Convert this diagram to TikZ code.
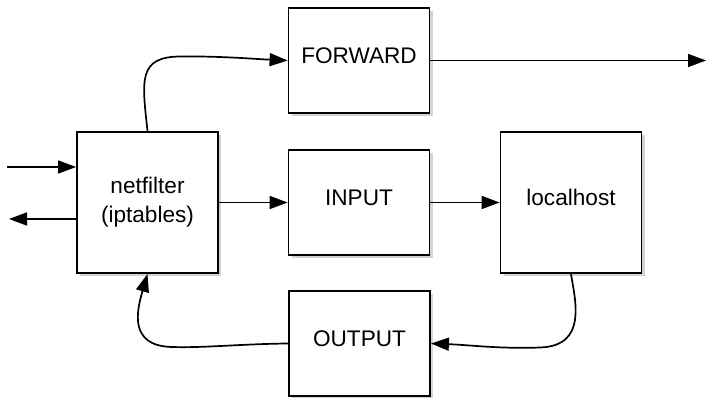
\documentclass[tikz,border=0pt]{standalone}
\usepackage{fontspec}
\setmainfont{Liberation Sans}
\usetikzlibrary{arrows.meta,shadows}
\begin{document}
\begin{tikzpicture}[x=1pt,y=-1pt,
  box/.style={draw=black, line width=1.8pt, fill=white, minimum width=141pt,
    inner sep=0pt, font=\fontsize{22.6}{29}\selectfont,
    drop shadow={shadow xshift=3pt, shadow yshift=-3pt, opacity=0.35, fill=black!50}},
  oneline/.style={text height=16pt, text depth=9.8pt},
  wire/.style={line width=1.7pt, -{Triangle[length=18pt,width=13pt]}}]
\useasboundingbox (0,0) rectangle (707,398);

% chain boxes
\node[box, minimum height=141pt, align=center] (nf) at (147.5,202.5) {netfilter\\(iptables)};
\node[box, oneline, minimum height=105pt] (fw) at (359,60.5) {FORWARD};
\node[box, oneline, minimum height=105pt] (inp) at (359,202.5) {INPUT};
\node[box, oneline, minimum height=141pt] (lh) at (571,202.5) {localhost};
\node[box, oneline, minimum height=105pt] (op) at (359.5,343.5) {OUTPUT};

% free ends of the outside traffic
\coordinate (inL) at (7,167);
\coordinate (outL) at (9,219);
\coordinate (fwOut) at (706,60.5);

% straight links
\draw[wire] (inL) -- (inL -| nf.west);
\draw[wire] (outL -| nf.west) -- (outL);
\draw[wire] (fw.east) -- (fwOut);
\draw[wire] (nf.east) -- (inp.west);
\draw[wire] (inp.east) -- (lh.west);

% curved links
\draw[wire] (nf.north) .. controls (142,80) and (138,57) .. (180,56.5)
  .. controls (220,56) and (255,59) .. (fw.west);
\draw[wire] (op.west) .. controls (240,344) and (205,348) .. (172,347)
  .. controls (128,346) and (137,310) .. (nf.south);
\draw[wire] (lh.south) .. controls (575,300) and (588,346) .. (540,347.5)
  .. controls (500,349) and (470,345) .. (op.east);
\end{tikzpicture}
\end{document}
